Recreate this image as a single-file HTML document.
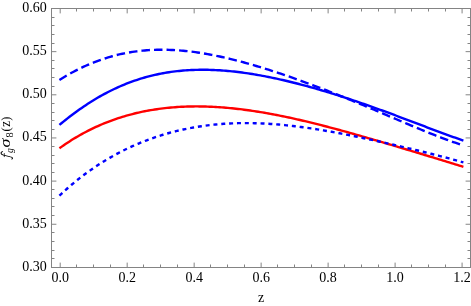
<!DOCTYPE html>
<html><head><meta charset="utf-8"><title>plot</title>
<style>
html,body{margin:0;padding:0;background:#fff;}
body{width:471px;height:306px;overflow:hidden;position:relative;font-family:"Liberation Serif",serif;}
.t{font-family:"Liberation Serif",serif;font-size:14px;fill:#000;}
</style></head><body>
<svg width="471" height="306" viewBox="0 0 471 306" style="position:absolute;left:0;top:0;will-change:transform">
<rect x="0" y="0" width="471" height="306" fill="#fff"/>
<path d="M60.2,267.0 v-4.4 M60.2,9.0 v4.4 M76.5,267.0 v-2.5 M76.5,9.0 v2.5 M93.5,267.0 v-2.5 M93.5,9.0 v2.5 M110.5,267.0 v-2.5 M110.5,9.0 v2.5 M127.18,267.0 v-4.4 M127.18,9.0 v4.4 M143.5,267.0 v-2.5 M143.5,9.0 v2.5 M160.5,267.0 v-2.5 M160.5,9.0 v2.5 M177.5,267.0 v-2.5 M177.5,9.0 v2.5 M194.16,267.0 v-4.4 M194.16,9.0 v4.4 M210.5,267.0 v-2.5 M210.5,9.0 v2.5 M227.5,267.0 v-2.5 M227.5,9.0 v2.5 M244.5,267.0 v-2.5 M244.5,9.0 v2.5 M261.14,267.0 v-4.4 M261.14,9.0 v4.4 M277.5,267.0 v-2.5 M277.5,9.0 v2.5 M294.5,267.0 v-2.5 M294.5,9.0 v2.5 M311.5,267.0 v-2.5 M311.5,9.0 v2.5 M328.12,267.0 v-4.4 M328.12,9.0 v4.4 M344.5,267.0 v-2.5 M344.5,9.0 v2.5 M361.5,267.0 v-2.5 M361.5,9.0 v2.5 M378.5,267.0 v-2.5 M378.5,9.0 v2.5 M395.1,267.0 v-4.4 M395.1,9.0 v4.4 M411.5,267.0 v-2.5 M411.5,9.0 v2.5 M428.5,267.0 v-2.5 M428.5,9.0 v2.5 M445.5,267.0 v-2.5 M445.5,9.0 v2.5 M462.08,267.0 v-4.4 M462.08,9.0 v4.4 M52.0,258.5 h2.5 M470.0,258.5 h-2.5 M52.0,250.5 h2.5 M470.0,250.5 h-2.5 M52.0,241.5 h2.5 M470.0,241.5 h-2.5 M52.0,232.5 h2.5 M470.0,232.5 h-2.5 M52.0,224.25 h4.4 M470.0,224.25 h-4.4 M52.0,215.5 h2.5 M470.0,215.5 h-2.5 M52.0,206.5 h2.5 M470.0,206.5 h-2.5 M52.0,198.5 h2.5 M470.0,198.5 h-2.5 M52.0,189.5 h2.5 M470.0,189.5 h-2.5 M52.0,181.1 h4.4 M470.0,181.1 h-4.4 M52.0,172.5 h2.5 M470.0,172.5 h-2.5 M52.0,163.5 h2.5 M470.0,163.5 h-2.5 M52.0,155.5 h2.5 M470.0,155.5 h-2.5 M52.0,146.5 h2.5 M470.0,146.5 h-2.5 M52.0,137.95 h4.4 M470.0,137.95 h-4.4 M52.0,129.5 h2.5 M470.0,129.5 h-2.5 M52.0,120.5 h2.5 M470.0,120.5 h-2.5 M52.0,112.5 h2.5 M470.0,112.5 h-2.5 M52.0,103.5 h2.5 M470.0,103.5 h-2.5 M52.0,94.8 h4.4 M470.0,94.8 h-4.4 M52.0,86.5 h2.5 M470.0,86.5 h-2.5 M52.0,77.5 h2.5 M470.0,77.5 h-2.5 M52.0,68.5 h2.5 M470.0,68.5 h-2.5 M52.0,60.5 h2.5 M470.0,60.5 h-2.5 M52.0,51.65 h4.4 M470.0,51.65 h-4.4 M52.0,43.5 h2.5 M470.0,43.5 h-2.5 M52.0,34.5 h2.5 M470.0,34.5 h-2.5 M52.0,25.5 h2.5 M470.0,25.5 h-2.5 M52.0,17.5 h2.5 M470.0,17.5 h-2.5" stroke="#848484" stroke-width="1" fill="none"/>
<rect x="51.5" y="8.5" width="419.0" height="259.0" fill="none" stroke="#848484" stroke-width="1"/>
<path d="M59.40,79.93 L61.43,78.68 L63.46,77.45 L65.49,76.25 L67.52,75.08 L69.55,73.94 L71.58,72.82 L73.61,71.73 L75.64,70.67 L77.67,69.63 L79.70,68.62 L81.73,67.64 L83.76,66.69 L85.79,65.77 L87.82,64.87 L89.85,64.00 L91.88,63.16 L93.91,62.35 L95.94,61.56 L97.97,60.80 L100.00,60.07 L102.03,59.36 L104.06,58.68 L106.09,58.03 L108.12,57.40 L110.15,56.80 L112.18,56.23 L114.21,55.68 L116.24,55.16 L118.27,54.67 L120.30,54.20 L122.33,53.75 L124.36,53.33 L126.39,52.94 L128.43,52.56 L130.46,52.22 L132.49,51.89 L134.52,51.59 L136.55,51.32 L138.58,51.06 L140.61,50.83 L142.64,50.63 L144.67,50.44 L146.70,50.28 L148.73,50.14 L150.76,50.02 L152.79,49.92 L154.82,49.84 L156.85,49.78 L158.88,49.74 L160.91,49.73 L162.94,49.73 L164.97,49.75 L167.00,49.79 L169.03,49.85 L171.06,49.93 L173.09,50.02 L175.12,50.14 L177.15,50.27 L179.18,50.42 L181.21,50.58 L183.24,50.76 L185.27,50.96 L187.30,51.17 L189.33,51.40 L191.36,51.65 L193.39,51.91 L195.42,52.18 L197.45,52.47 L199.48,52.78 L201.51,53.09 L203.54,53.42 L205.57,53.77 L207.60,54.13 L209.63,54.50 L211.66,54.88 L213.69,55.27 L215.72,55.68 L217.75,56.10 L219.78,56.53 L221.81,56.97 L223.84,57.43 L225.87,57.89 L227.90,58.36 L229.93,58.85 L231.96,59.34 L233.99,59.85 L236.02,60.36 L238.05,60.88 L240.08,61.42 L242.11,61.96 L244.14,62.51 L246.17,63.07 L248.20,63.64 L250.23,64.21 L252.26,64.79 L254.29,65.39 L256.32,65.99 L258.35,66.59 L260.38,67.21 L262.42,67.83 L264.45,68.46 L266.48,69.09 L268.51,69.73 L270.54,70.38 L272.57,71.04 L274.60,71.70 L276.63,72.36 L278.66,73.04 L280.69,73.72 L282.72,74.40 L284.75,75.09 L286.78,75.79 L288.81,76.49 L290.84,77.20 L292.87,77.91 L294.90,78.63 L296.93,79.35 L298.96,80.08 L300.99,80.81 L303.02,81.55 L305.05,82.29 L307.08,83.03 L309.11,83.78 L311.14,84.54 L313.17,85.30 L315.20,86.06 L317.23,86.83 L319.26,87.60 L321.29,88.38 L323.32,89.16 L325.35,89.95 L327.38,90.73 L329.41,91.53 L331.44,92.32 L333.47,93.12 L335.50,93.92 L337.53,94.73 L339.56,95.54 L341.59,96.36 L343.62,97.17 L345.65,97.99 L347.68,98.82 L349.71,99.64 L351.74,100.47 L353.77,101.30 L355.80,102.14 L357.83,102.98 L359.86,103.82 L361.89,104.66 L363.92,105.50 L365.95,106.35 L367.98,107.20 L370.01,108.05 L372.04,108.91 L374.07,109.76 L376.10,110.62 L378.13,111.48 L380.16,112.34 L382.19,113.20 L384.22,114.06 L386.25,114.93 L388.28,115.79 L390.31,116.66 L392.34,117.52 L394.37,118.38 L396.41,119.25 L398.44,120.11 L400.47,120.98 L402.50,121.84 L404.53,122.70 L406.56,123.56 L408.59,124.42 L410.62,125.27 L412.65,126.13 L414.68,126.98 L416.71,127.82 L418.74,128.67 L420.77,129.51 L422.80,130.34 L424.83,131.17 L426.86,132.00 L428.89,132.82 L430.92,133.63 L432.95,134.44 L434.98,135.24 L437.01,136.03 L439.04,136.81 L441.07,137.59 L443.10,138.35 L445.13,139.11 L447.16,139.85 L449.19,140.58 L451.22,141.30 L453.25,142.01 L455.28,142.71 L457.31,143.38 L459.34,144.05 L461.37,144.70 L463.40,145.33" stroke="#0000ff" stroke-width="2.4" fill="none" stroke-dasharray="8.5 4.055"/>
<path d="M59.40,124.93 L61.43,123.25 L63.46,121.59 L65.49,119.96 L67.52,118.36 L69.55,116.78 L71.58,115.23 L73.61,113.71 L75.64,112.21 L77.67,110.74 L79.70,109.30 L81.73,107.89 L83.76,106.50 L85.79,105.14 L87.82,103.81 L89.85,102.51 L91.88,101.23 L93.91,99.98 L95.94,98.76 L97.97,97.57 L100.00,96.40 L102.03,95.27 L104.06,94.16 L106.09,93.07 L108.12,92.02 L110.15,90.99 L112.18,89.99 L114.21,89.01 L116.24,88.07 L118.27,87.14 L120.30,86.25 L122.33,85.38 L124.36,84.54 L126.39,83.72 L128.43,82.93 L130.46,82.17 L132.49,81.43 L134.52,80.72 L136.55,80.03 L138.58,79.36 L140.61,78.72 L142.64,78.11 L144.67,77.52 L146.70,76.95 L148.73,76.41 L150.76,75.89 L152.79,75.39 L154.82,74.92 L156.85,74.47 L158.88,74.04 L160.91,73.64 L162.94,73.25 L164.97,72.89 L167.00,72.55 L169.03,72.23 L171.06,71.93 L173.09,71.65 L175.12,71.40 L177.15,71.16 L179.18,70.94 L181.21,70.74 L183.24,70.56 L185.27,70.40 L187.30,70.26 L189.33,70.14 L191.36,70.03 L193.39,69.95 L195.42,69.88 L197.45,69.83 L199.48,69.79 L201.51,69.77 L203.54,69.77 L205.57,69.79 L207.60,69.82 L209.63,69.86 L211.66,69.93 L213.69,70.00 L215.72,70.10 L217.75,70.20 L219.78,70.32 L221.81,70.46 L223.84,70.61 L225.87,70.77 L227.90,70.95 L229.93,71.14 L231.96,71.34 L233.99,71.56 L236.02,71.79 L238.05,72.03 L240.08,72.28 L242.11,72.55 L244.14,72.83 L246.17,73.11 L248.20,73.41 L250.23,73.72 L252.26,74.05 L254.29,74.38 L256.32,74.72 L258.35,75.07 L260.38,75.44 L262.42,75.81 L264.45,76.19 L266.48,76.58 L268.51,76.98 L270.54,77.39 L272.57,77.81 L274.60,78.24 L276.63,78.68 L278.66,79.13 L280.69,79.58 L282.72,80.04 L284.75,80.51 L286.78,80.99 L288.81,81.48 L290.84,81.97 L292.87,82.47 L294.90,82.98 L296.93,83.50 L298.96,84.02 L300.99,84.55 L303.02,85.09 L305.05,85.64 L307.08,86.19 L309.11,86.75 L311.14,87.31 L313.17,87.88 L315.20,88.46 L317.23,89.04 L319.26,89.63 L321.29,90.23 L323.32,90.83 L325.35,91.44 L327.38,92.05 L329.41,92.67 L331.44,93.30 L333.47,93.93 L335.50,94.56 L337.53,95.21 L339.56,95.85 L341.59,96.50 L343.62,97.16 L345.65,97.82 L347.68,98.49 L349.71,99.16 L351.74,99.84 L353.77,100.52 L355.80,101.21 L357.83,101.90 L359.86,102.59 L361.89,103.29 L363.92,104.00 L365.95,104.70 L367.98,105.41 L370.01,106.13 L372.04,106.85 L374.07,107.57 L376.10,108.30 L378.13,109.03 L380.16,109.77 L382.19,110.50 L384.22,111.24 L386.25,111.99 L388.28,112.74 L390.31,113.49 L392.34,114.24 L394.37,114.99 L396.41,115.75 L398.44,116.51 L400.47,117.27 L402.50,118.03 L404.53,118.80 L406.56,119.57 L408.59,120.33 L410.62,121.10 L412.65,121.87 L414.68,122.64 L416.71,123.41 L418.74,124.18 L420.77,124.95 L422.80,125.72 L424.83,126.49 L426.86,127.26 L428.89,128.03 L430.92,128.80 L432.95,129.56 L434.98,130.32 L437.01,131.08 L439.04,131.84 L441.07,132.59 L443.10,133.34 L445.13,134.09 L447.16,134.83 L449.19,135.56 L451.22,136.29 L453.25,137.02 L455.28,137.74 L457.31,138.45 L459.34,139.15 L461.37,139.85 L463.40,140.54" stroke="#0000ff" stroke-width="2.4" fill="none"/>
<path d="M59.40,148.30 L61.43,146.86 L63.46,145.44 L65.49,144.06 L67.52,142.71 L69.55,141.40 L71.58,140.11 L73.61,138.85 L75.64,137.63 L77.67,136.43 L79.70,135.27 L81.73,134.13 L83.76,133.02 L85.79,131.94 L87.82,130.89 L89.85,129.87 L91.88,128.87 L93.91,127.90 L95.94,126.95 L97.97,126.04 L100.00,125.14 L102.03,124.27 L104.06,123.43 L106.09,122.61 L108.12,121.82 L110.15,121.04 L112.18,120.30 L114.21,119.57 L116.24,118.87 L118.27,118.19 L120.30,117.54 L122.33,116.90 L124.36,116.29 L126.39,115.69 L128.43,115.12 L130.46,114.57 L132.49,114.04 L134.52,113.53 L136.55,113.04 L138.58,112.57 L140.61,112.12 L142.64,111.69 L144.67,111.28 L146.70,110.88 L148.73,110.51 L150.76,110.15 L152.79,109.81 L154.82,109.49 L156.85,109.19 L158.88,108.90 L160.91,108.63 L162.94,108.37 L164.97,108.14 L167.00,107.92 L169.03,107.71 L171.06,107.52 L173.09,107.35 L175.12,107.19 L177.15,107.05 L179.18,106.92 L181.21,106.81 L183.24,106.71 L185.27,106.63 L187.30,106.56 L189.33,106.50 L191.36,106.46 L193.39,106.44 L195.42,106.42 L197.45,106.42 L199.48,106.43 L201.51,106.46 L203.54,106.50 L205.57,106.55 L207.60,106.61 L209.63,106.69 L211.66,106.78 L213.69,106.88 L215.72,106.99 L217.75,107.11 L219.78,107.24 L221.81,107.39 L223.84,107.55 L225.87,107.71 L227.90,107.89 L229.93,108.08 L231.96,108.28 L233.99,108.49 L236.02,108.71 L238.05,108.94 L240.08,109.18 L242.11,109.43 L244.14,109.69 L246.17,109.96 L248.20,110.24 L250.23,110.52 L252.26,110.82 L254.29,111.12 L256.32,111.44 L258.35,111.76 L260.38,112.09 L262.42,112.43 L264.45,112.77 L266.48,113.13 L268.51,113.49 L270.54,113.86 L272.57,114.24 L274.60,114.62 L276.63,115.01 L278.66,115.41 L280.69,115.82 L282.72,116.23 L284.75,116.65 L286.78,117.08 L288.81,117.51 L290.84,117.95 L292.87,118.39 L294.90,118.84 L296.93,119.30 L298.96,119.76 L300.99,120.23 L303.02,120.71 L305.05,121.18 L307.08,121.67 L309.11,122.16 L311.14,122.65 L313.17,123.15 L315.20,123.66 L317.23,124.16 L319.26,124.68 L321.29,125.20 L323.32,125.72 L325.35,126.24 L327.38,126.77 L329.41,127.31 L331.44,127.84 L333.47,128.39 L335.50,128.93 L337.53,129.48 L339.56,130.03 L341.59,130.59 L343.62,131.14 L345.65,131.70 L347.68,132.27 L349.71,132.84 L351.74,133.41 L353.77,133.98 L355.80,134.55 L357.83,135.13 L359.86,135.71 L361.89,136.29 L363.92,136.87 L365.95,137.46 L367.98,138.05 L370.01,138.64 L372.04,139.23 L374.07,139.82 L376.10,140.42 L378.13,141.01 L380.16,141.61 L382.19,142.21 L384.22,142.81 L386.25,143.41 L388.28,144.01 L390.31,144.62 L392.34,145.22 L394.37,145.83 L396.41,146.43 L398.44,147.04 L400.47,147.65 L402.50,148.26 L404.53,148.87 L406.56,149.48 L408.59,150.09 L410.62,150.70 L412.65,151.31 L414.68,151.93 L416.71,152.54 L418.74,153.16 L420.77,153.77 L422.80,154.38 L424.83,155.00 L426.86,155.62 L428.89,156.23 L430.92,156.85 L432.95,157.47 L434.98,158.08 L437.01,158.70 L439.04,159.32 L441.07,159.94 L443.10,160.56 L445.13,161.18 L447.16,161.80 L449.19,162.42 L451.22,163.05 L453.25,163.67 L455.28,164.29 L457.31,164.92 L459.34,165.54 L461.37,166.17 L463.40,166.80" stroke="#ff0000" stroke-width="2.4" fill="none"/>
<path d="M59.40,195.67 L61.43,193.77 L63.46,191.90 L65.49,190.06 L67.52,188.26 L69.55,186.50 L71.58,184.77 L73.61,183.07 L75.64,181.40 L77.67,179.77 L79.70,178.17 L81.73,176.60 L83.76,175.06 L85.79,173.55 L87.82,172.07 L89.85,170.62 L91.88,169.19 L93.91,167.80 L95.94,166.43 L97.97,165.09 L100.00,163.78 L102.03,162.49 L104.06,161.24 L106.09,160.00 L108.12,158.80 L110.15,157.61 L112.18,156.46 L114.21,155.32 L116.24,154.21 L118.27,153.13 L120.30,152.07 L122.33,151.03 L124.36,150.02 L126.39,149.02 L128.43,148.05 L130.46,147.11 L132.49,146.18 L134.52,145.28 L136.55,144.40 L138.58,143.53 L140.61,142.69 L142.64,141.87 L144.67,141.08 L146.70,140.30 L148.73,139.54 L150.76,138.80 L152.79,138.08 L154.82,137.38 L156.85,136.70 L158.88,136.04 L160.91,135.39 L162.94,134.77 L164.97,134.16 L167.00,133.57 L169.03,133.00 L171.06,132.45 L173.09,131.92 L175.12,131.40 L177.15,130.90 L179.18,130.42 L181.21,129.95 L183.24,129.50 L185.27,129.07 L187.30,128.65 L189.33,128.25 L191.36,127.87 L193.39,127.50 L195.42,127.15 L197.45,126.82 L199.48,126.50 L201.51,126.19 L203.54,125.90 L205.57,125.63 L207.60,125.37 L209.63,125.12 L211.66,124.89 L213.69,124.68 L215.72,124.48 L217.75,124.29 L219.78,124.12 L221.81,123.96 L223.84,123.81 L225.87,123.68 L227.90,123.56 L229.93,123.46 L231.96,123.37 L233.99,123.29 L236.02,123.22 L238.05,123.17 L240.08,123.13 L242.11,123.10 L244.14,123.08 L246.17,123.08 L248.20,123.09 L250.23,123.11 L252.26,123.14 L254.29,123.18 L256.32,123.24 L258.35,123.31 L260.38,123.38 L262.42,123.47 L264.45,123.57 L266.48,123.68 L268.51,123.80 L270.54,123.93 L272.57,124.07 L274.60,124.22 L276.63,124.38 L278.66,124.55 L280.69,124.72 L282.72,124.91 L284.75,125.11 L286.78,125.32 L288.81,125.53 L290.84,125.75 L292.87,125.99 L294.90,126.23 L296.93,126.48 L298.96,126.73 L300.99,127.00 L303.02,127.27 L305.05,127.55 L307.08,127.83 L309.11,128.13 L311.14,128.43 L313.17,128.74 L315.20,129.05 L317.23,129.37 L319.26,129.70 L321.29,130.03 L323.32,130.37 L325.35,130.72 L327.38,131.07 L329.41,131.43 L331.44,131.79 L333.47,132.16 L335.50,132.53 L337.53,132.91 L339.56,133.29 L341.59,133.68 L343.62,134.07 L345.65,134.47 L347.68,134.87 L349.71,135.27 L351.74,135.68 L353.77,136.09 L355.80,136.51 L357.83,136.93 L359.86,137.35 L361.89,137.78 L363.92,138.20 L365.95,138.64 L367.98,139.07 L370.01,139.51 L372.04,139.95 L374.07,140.40 L376.10,140.84 L378.13,141.29 L380.16,141.75 L382.19,142.20 L384.22,142.66 L386.25,143.11 L388.28,143.58 L390.31,144.04 L392.34,144.50 L394.37,144.97 L396.41,145.44 L398.44,145.91 L400.47,146.38 L402.50,146.86 L404.53,147.34 L406.56,147.82 L408.59,148.30 L410.62,148.78 L412.65,149.27 L414.68,149.75 L416.71,150.24 L418.74,150.73 L420.77,151.23 L422.80,151.73 L424.83,152.22 L426.86,152.73 L428.89,153.23 L430.92,153.74 L432.95,154.25 L434.98,154.76 L437.01,155.27 L439.04,155.79 L441.07,156.32 L443.10,156.84 L445.13,157.37 L447.16,157.91 L449.19,158.45 L451.22,158.99 L453.25,159.54 L455.28,160.09 L457.31,160.65 L459.34,161.22 L461.37,161.79 L463.40,162.37" stroke="#0000ff" stroke-width="2.4" fill="none" stroke-dasharray="4 3.855"/>
<text x="60.20" y="282.1" text-anchor="middle" class="t">0.0</text>
<text x="127.18" y="282.1" text-anchor="middle" class="t">0.2</text>
<text x="194.16" y="282.1" text-anchor="middle" class="t">0.4</text>
<text x="261.14" y="282.1" text-anchor="middle" class="t">0.6</text>
<text x="328.12" y="282.1" text-anchor="middle" class="t">0.8</text>
<text x="395.10" y="282.1" text-anchor="middle" class="t">1.0</text>
<text x="462.08" y="282.1" text-anchor="middle" class="t">1.2</text>
<text x="46.7" y="270.85" text-anchor="end" class="t">0.30</text>
<text x="46.7" y="227.70" text-anchor="end" class="t">0.35</text>
<text x="46.7" y="184.55" text-anchor="end" class="t">0.40</text>
<text x="46.7" y="141.40" text-anchor="end" class="t">0.45</text>
<text x="46.7" y="98.25" text-anchor="end" class="t">0.50</text>
<text x="46.7" y="55.10" text-anchor="end" class="t">0.55</text>
<text x="46.7" y="11.95" text-anchor="end" class="t">0.60</text>
<text x="261" y="301.6" text-anchor="middle" class="t">z</text>
<g transform="translate(10.1,160) rotate(-90)"><text transform="translate(6.9,2.7) scale(1.0,1)" font-family="Liberation Serif" font-size="9.5" font-style="italic">g</text><text transform="translate(12.6,0) scale(1.2,1)" font-family="Liberation Serif" font-size="15" font-style="italic">σ</text><text transform="translate(22.5,2.4) scale(1.1,1)" font-family="Liberation Serif" font-size="9.5" >8</text><text transform="translate(28.4,0) scale(0.9,1)" font-family="Liberation Serif" font-size="13.5" >(</text><text transform="translate(33.2,0) scale(0.95,1)" font-family="Liberation Serif" font-size="14" >z</text><text transform="translate(39.3,0) scale(0.9,1)" font-family="Liberation Serif" font-size="13.5" >)</text><g transform="translate(0.6,0) scale(0.83,1) translate(-0.6,0)"><path d="M0.9,1.7 C1.6,2.9 3.0,2.6 3.6,0.4 L5.7,-6.6 C6.3,-8.7 7.7,-9.3 8.9,-8.9 C9.7,-8.6 10.1,-8.0 9.9,-7.5" fill="none" stroke="#000" stroke-width="1.05" stroke-linecap="round"/><path d="M3.4,-5.8 H8.2" stroke="#000" stroke-width="0.8" fill="none"/></g></g>
</svg>
</body></html>
